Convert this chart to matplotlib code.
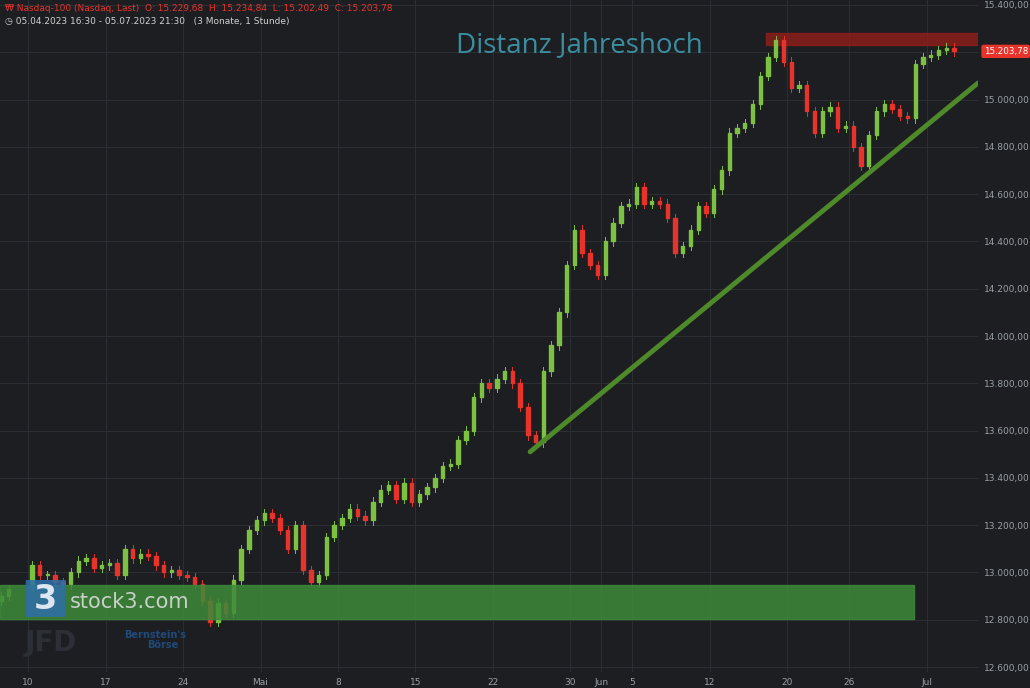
import matplotlib
matplotlib.use("Agg")
import matplotlib.pyplot as plt
from matplotlib.patches import Rectangle, FancyBboxPatch
from matplotlib.ticker import FuncFormatter, FixedLocator

# half-day closes, trading-day index (Apr 10 = 0)
days = [-2, 0, 1, 2, 3, 4, 5, 6, 7, 8, 9, 10, 11, 12, 13, 14, 15, 16, 17, 18, 19,
        20, 21, 22, 23, 24, 25, 26, 27, 28, 29, 30, 31, 32, 33, 34, 35, 36, 37, 38,
        39, 40, 41, 42, 43, 44, 45, 46, 47, 48, 49, 50, 51, 52, 53, 54, 55, 56, 57, 58, 59]
closes = [
    (12900, 12930), (13030, 12990), (12990, 12960), (12950, 13000), (13050, 13060), (13020, 13030),
    (13040, 12990), (13100, 13060), (13080, 13070), (13030, 13000), (13010, 12990),
    (12980, 12950), (12880, 12790), (12870, 12830), (12970, 13100), (13180, 13220),
    (13250, 13230), (13180, 13100), (13200, 13010), (12960, 12990), (13150, 13200),
    (13230, 13270), (13240, 13220), (13300, 13350), (13370, 13310), (13380, 13300),
    (13330, 13360), (13400, 13450), (13460, 13560), (13600, 13740), (13800, 13780),
    (13820, 13850), (13800, 13700), (13580, 13550), (13850, 13960), (14100, 14300),
    (14450, 14350), (14300, 14260), (14400, 14480), (14550, 14560),
    (14630, 14560), (14570, 14560), (14500, 14350), (14380, 14450), (14550, 14520),
    (14620, 14700), (14860, 14880), (14900, 14980), (15100, 15180), (15250, 15160),
    (15050, 15060), (14950, 14860), (14950, 14970), (14880, 14890),
    (14800, 14720), (14850, 14950), (14980, 14960), (14930, 14920), (15150, 15180),
    (15190, 15210), (15220, 15204)]
xtick_pos = [0, 5, 10, 15, 20, 25, 30, 35, 37, 39, 44, 49, 53, 58]
xtick_lab = ["10", "17", "24", "Mai", "8", "15", "22", "30", "Jun", "5", "12", "20", "26", "Jul"]
trend_x = [32.4, 61.3]
trend_y = [13510, 15070]
resist = (15231, 15282)
support = (12803, 12947)
last_price = 15203.78

BG = "#1c1e22"
fig = plt.figure(figsize=(10.3, 6.88), dpi=100)
fig.patch.set_facecolor(BG)
ax = fig.add_axes([0, 16/688, 978/1030, 672/688])
ax.set_facecolor(BG)
ax.set_xlim(-1.81, 61.3)
ax.set_ylim(12579, 15421)

prev = closes[0][0] - 20
for d, (c1, c2) in zip(days, closes):
    for k, c in enumerate((c1, c2)):
        x = d + 0.25 + 0.5 * k
        o = prev
        col = "#7cc142" if c >= o else "#e8332b"
        lo, hi = min(o, c), max(o, c)
        ax.plot([x, x], [lo - 18, hi + 18], color=col, lw=0.7, zorder=3)
        ax.add_patch(Rectangle((x - 0.11, lo), 0.22, max(hi - lo, 3), color=col, zorder=3))
        prev = c

ax.plot(trend_x, trend_y, color="#4f8a2a", lw=3.5, zorder=4, solid_capstyle="round")
ax.add_patch(Rectangle((47.6, resist[0]), 61.3 - 47.6, resist[1] - resist[0],
                       color="#8b1f1c", alpha=0.85, zorder=2))
ax.add_patch(Rectangle((-1.81, support[0]), 57.2 + 1.81, support[1] - support[0],
                       color="#3e8a3a", alpha=0.85, zorder=5))

ax.text(27.6, 15230, "Distanz Jahreshoch", color="#3b8ea0", fontsize=20,
        fontfamily="Open Sans", va="center", zorder=6)

# watermarks
ax.add_patch(FancyBboxPatch((-0.1, 12815), 2.5, 150, boxstyle="round,pad=0,rounding_size=0.3",
                            color="#2f6ea8", alpha=0.85, zorder=6))
ax.text(1.15, 12885, "3", color="#dbe6f0", fontsize=24, ha="center", va="center",
        fontweight="bold", zorder=7)
ax.text(2.7, 12875, "stock3.com", color="#c8d0c8", fontsize=15, va="center", zorder=7)
ax.text(-0.2, 12700, "JFD", color="#2c3036", fontsize=20, fontweight="bold", va="center", zorder=2)
ax.text(6.2, 12735, "Bernstein's", color="#1f4a7a", fontsize=7, fontweight="bold", va="center", zorder=2)
ax.text(7.7, 12692, "Börse", color="#1f4a7a", fontsize=7, fontweight="bold", va="center", zorder=2)

for s in ax.spines.values():
    s.set_visible(False)
ax.yaxis.tick_right()
ax.yaxis.set_major_locator(FixedLocator(list(range(12600, 15401, 200))))
ax.yaxis.set_major_formatter(FuncFormatter(lambda v, p: f"{int(v):,}".replace(",", ".") + ",00"))
ax.xaxis.set_major_locator(FixedLocator(xtick_pos))
ax.set_xticklabels(xtick_lab)
ax.tick_params(colors="#9aa0a6", labelsize=6.5, length=0, pad=4)
ax.tick_params(axis="y", pad=4)
ax.grid(True, color="#2b2e33", lw=0.8, zorder=0)

lab = f"{last_price:,.2f}".replace(",", "X").replace(".", ",").replace("X", ".")
ax.annotate(lab, xy=(1.0, last_price), xycoords=("axes fraction", "data"), xytext=(4, 0),
            textcoords="offset points", color="white", fontsize=6.3, va="center",
            bbox=dict(boxstyle="round,pad=0.25", fc="#e8332b", ec="none"), annotation_clip=False)

fig.text(0.005, 0.987, "₩ Nasdaq-100 (Nasdaq, Last)  O: 15.229,68  H: 15.234,84  L: 15.202,49  C: 15.203,78",
         color="#e8332b", fontsize=6.5, va="center")
fig.text(0.005, 0.969, "◷ 05.04.2023 16:30 - 05.07.2023 21:30   (3 Monate, 1 Stunde)",
         color="#d0d0d0", fontsize=6.5, va="center")
fig.savefig("out.png", dpi=100, facecolor=BG)
